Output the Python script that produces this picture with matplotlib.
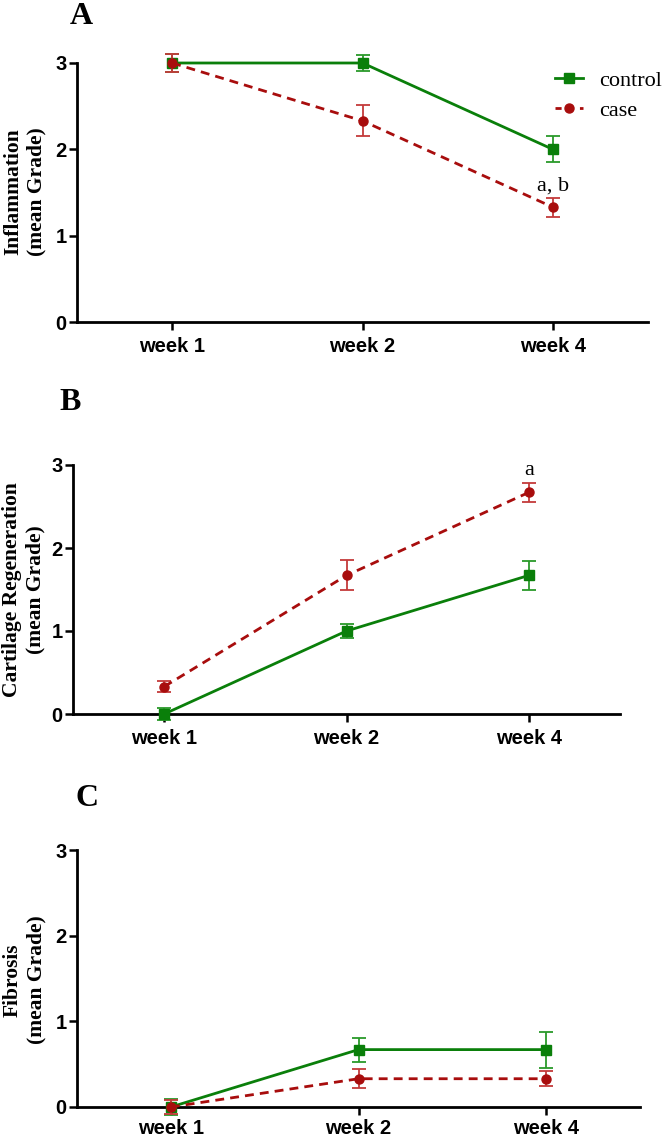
import matplotlib
matplotlib.use("Agg")
import matplotlib.pyplot as plt
from matplotlib.lines import Line2D

# ---- data -------------------------------------------------------------
weeks = ["week 1", "week 2", "week 4"]

infl_control = [3.0, 3.0, 2.0]
infl_control_err = [0.10, 0.09, 0.15]
infl_case = [3.0, 2.33, 1.33]
infl_case_err = [0.11, 0.18, 0.11]

cart_control = [0.0, 1.0, 1.67]
cart_control_err = [0.07, 0.09, 0.17]
cart_case = [0.33, 1.67, 2.67]
cart_case_err = [0.07, 0.18, 0.11]

fib_control = [0.0, 0.67, 0.67]
fib_control_err = [0.09, 0.14, 0.21]
fib_case = [0.0, 0.33, 0.33]
fib_case_err = [0.08, 0.11, 0.09]

# ---- style ------------------------------------------------------------
W, H = 666, 1139
GREEN, GREEN_ERR = "#0a7f0a", "#2a9a2a"
RED, RED_ERR = "#a80d0d", "#c43a3a"
SANS = ["Liberation Sans", "DejaVu Sans"]
SERIF = ["Liberation Serif", "DejaVu Serif"]

fig = plt.figure(figsize=(W / 100, H / 100), dpi=100)


def px_axes(left, right, top, bottom):
    """axes rect from pixel edges (top-left origin)"""
    return fig.add_axes([left / W, 1 - bottom / H, (right - left) / W, (bottom - top) / H])


def draw_panel(ax, control, control_err, case, case_err, xpad=5):
    x = list(range(len(weeks)))
    ax.errorbar(x, control, yerr=control_err, color=GREEN, ecolor=GREEN_ERR, lw=2.0,
                marker="s", ms=6.5, elinewidth=1.3, capsize=5, capthick=1.3, zorder=3)
    ax.errorbar(x, case, yerr=case_err, color=RED, ecolor=RED_ERR, lw=2.0, ls=(0, (3.2, 2.2)),
                marker="o", ms=6.5, elinewidth=1.3, capsize=5, capthick=1.3, zorder=4)
    ax.set_xlim(-0.5, 2.5)
    ax.set_ylim(0, 3)
    ax.set_xticks(x)
    ax.set_xticklabels(weeks)
    ax.set_yticks([0, 1, 2, 3])
    for s in ("top", "right"):
        ax.spines[s].set_visible(False)
    for s in ("left", "bottom"):
        ax.spines[s].set_linewidth(2.0)
    ax.spines["left"].set_bounds(0, 3)
    ax.tick_params(axis="both", direction="out", length=6, width=1.8, labelsize=14.5)
    ax.tick_params(axis="y", pad=1.5)
    ax.tick_params(axis="x", pad=xpad)
    for lab in ax.get_xticklabels() + ax.get_yticklabels():
        lab.set_family(SANS)
        lab.set_fontweight("bold")
    ax.patch.set_alpha(0)
    for c in ax.get_children():
        if hasattr(c, "set_clip_on"):
            c.set_clip_on(False)


def ylabel(text, xc, yc):
    fig.text(xc / W, 1 - yc / H, text, rotation=90, ha="center", va="center",
             family=SERIF, fontweight="bold", fontsize=15.5, linespacing=1.25)


def panel_letter(text, xc, yc):
    fig.text(xc / W, 1 - yc / H, text, ha="center", va="center",
             family=SERIF, fontweight="bold", fontsize=23)


# --- Panel A: inflammation
ax_a = px_axes(77, 648, 63, 322)
draw_panel(ax_a, infl_control, infl_control_err, infl_case, infl_case_err)
ax_a.text(2, 1.58, "a, b", ha="center", va="center", family=SERIF, fontsize=16)
panel_letter("A", 81, 17)
ylabel("Inflammation\n(mean Grade)", 25, 192)

handles = [
    Line2D([], [], color=GREEN, lw=2.0, marker="s", ms=6.5),
    Line2D([], [], color=RED, lw=2.0, ls=(0, (2.2, 2.2)), marker="o", ms=6.5),
]
fig.legend(handles, ["control", "case"], loc="upper left",
           bbox_to_anchor=(555 / W, 1 - 70 / H), frameon=False, borderpad=0,
           borderaxespad=0, handlelength=1.25, handletextpad=0.75, labelspacing=0.45,
           prop={"family": SERIF, "size": 16})

# --- Panel B: cartilage regeneration
ax_b = px_axes(73, 620, 465, 714)
draw_panel(ax_b, cart_control, cart_control_err, cart_case, cart_case_err)
ax_b.text(2, 2.93, "a", ha="center", va="center", family=SERIF, fontsize=16)
panel_letter("B", 70, 403)
ylabel("Cartilage Regeneration\n(mean Grade)", 24, 590)

# --- Panel C: fibrosis
ax_c = px_axes(77, 640, 850, 1107)
draw_panel(ax_c, fib_control, fib_control_err, fib_case, fib_case_err, xpad=3)
panel_letter("C", 87, 799)
ylabel("Fibrosis\n(mean Grade)", 25, 980)

fig.savefig("out.png", dpi=100)
